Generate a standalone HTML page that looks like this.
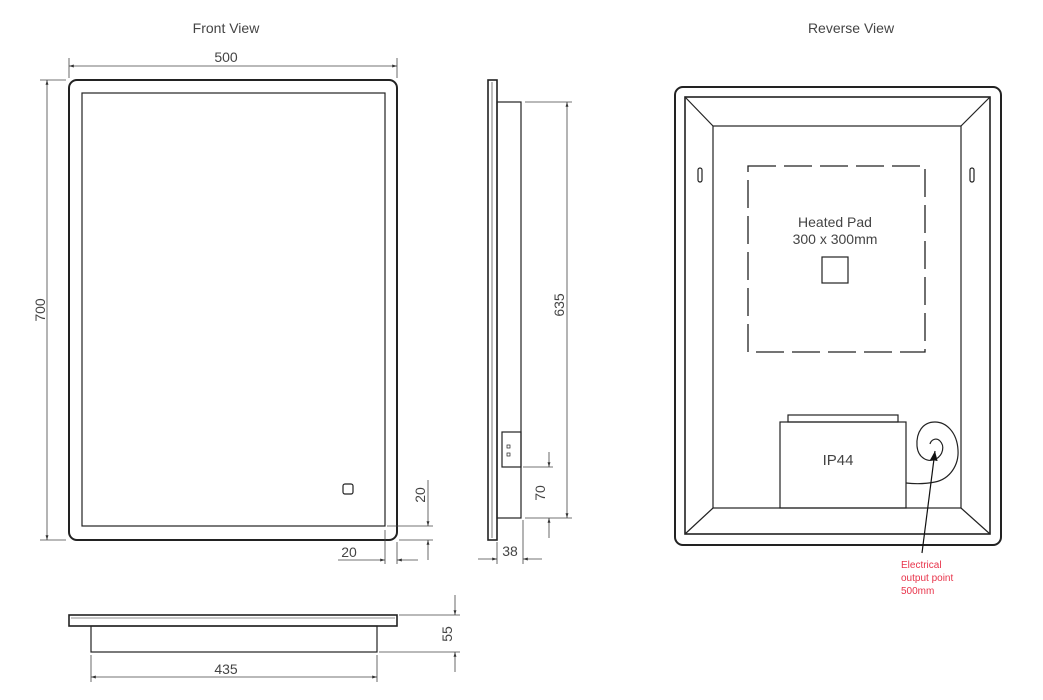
<!DOCTYPE html>
<html><head><style>
html,body{margin:0;padding:0;background:#fff;}
svg{display:block;}
text{font-family:"Liberation Sans",sans-serif;fill:#444;}
</style></head><body>
<svg width="1043" height="700" viewBox="0 0 1043 700" xmlns="http://www.w3.org/2000/svg">
<defs>
<marker id="a" viewBox="0 0 10 10" refX="10" refY="5" markerWidth="10" markerHeight="6" orient="auto-start-reverse"><path d="M0,2 L10,5 L0,8 z" fill="#333"/></marker>
<marker id="b" viewBox="0 0 10 10" refX="10" refY="5" markerWidth="8" markerHeight="8" orient="auto"><path d="M0,1 L10,5 L0,9 z" fill="#111"/></marker>
</defs>
<g stroke="#222" fill="none" stroke-width="1.2">
<!-- Front view -->
<rect x="69" y="80" width="328" height="460" rx="8" stroke-width="2"/>
<rect x="82" y="93" width="303" height="433"/>
<rect x="343" y="484" width="10" height="10" rx="2"/>
<g stroke-width="0.8" stroke="#444">
<line x1="69" y1="58" x2="69" y2="78"/><line x1="397" y1="58" x2="397" y2="78"/>
<line x1="69" y1="66" x2="397" y2="66" marker-start="url(#a)" marker-end="url(#a)"/>
<line x1="40" y1="80" x2="66" y2="80"/><line x1="40" y1="540" x2="66" y2="540"/>
<line x1="47" y1="80" x2="47" y2="540" marker-start="url(#a)" marker-end="url(#a)"/>
<line x1="387" y1="526" x2="433" y2="526"/><line x1="399" y1="540" x2="433" y2="540"/>
<line x1="428" y1="480" x2="428" y2="526" marker-end="url(#a)"/>
<line x1="428" y1="560" x2="428" y2="540" marker-end="url(#a)"/>
<line x1="385" y1="530" x2="385" y2="564"/><line x1="397" y1="542" x2="397" y2="564"/>
<line x1="338" y1="560" x2="385" y2="560" marker-end="url(#a)"/>
<line x1="418" y1="560" x2="397" y2="560" marker-end="url(#a)"/>
</g>
<!-- Side view -->
<rect x="488" y="80" width="9" height="460" stroke-width="1.6"/>
<line x1="492" y1="82" x2="492" y2="538" stroke-width="0.6"/>
<rect x="497" y="102" width="24" height="416"/>
<rect x="502" y="432" width="19" height="35"/>
<rect x="507" y="445" width="3" height="3" stroke-width="0.7"/><rect x="507" y="453" width="3" height="3" stroke-width="0.7"/>
<g stroke-width="0.8" stroke="#444">
<line x1="525" y1="102" x2="572" y2="102"/><line x1="525" y1="518" x2="572" y2="518"/>
<line x1="567" y1="102" x2="567" y2="518" marker-start="url(#a)" marker-end="url(#a)"/>
<line x1="523" y1="467" x2="553" y2="467"/>
<line x1="549" y1="452" x2="549" y2="467" marker-end="url(#a)"/>
<line x1="549" y1="538" x2="549" y2="518" marker-end="url(#a)"/>
<line x1="497" y1="542" x2="497" y2="564"/><line x1="523" y1="520" x2="523" y2="564"/>
<line x1="478" y1="559" x2="497" y2="559" marker-end="url(#a)"/>
<line x1="542" y1="559" x2="523" y2="559" marker-end="url(#a)"/>
</g>
<!-- Bottom view -->
<rect x="69" y="615" width="328" height="11" stroke-width="1.6"/>
<line x1="71" y1="618" x2="395" y2="618" stroke-width="0.6"/>
<rect x="91" y="626" width="286" height="26"/>
<g stroke-width="0.8" stroke="#444">
<line x1="399" y1="615" x2="460" y2="615"/><line x1="379" y1="652" x2="460" y2="652"/>
<line x1="455" y1="595" x2="455" y2="615" marker-end="url(#a)"/>
<line x1="455" y1="672" x2="455" y2="652" marker-end="url(#a)"/>
<line x1="91" y1="655" x2="91" y2="682"/><line x1="377" y1="655" x2="377" y2="682"/>
<line x1="91" y1="677" x2="377" y2="677" marker-start="url(#a)" marker-end="url(#a)"/>
</g>
<!-- Reverse view -->
<rect x="675" y="87" width="326" height="458" rx="8" stroke-width="2"/>
<rect x="685" y="97" width="305" height="437" stroke-width="1.6"/>
<rect x="713" y="126" width="248" height="382"/>
<line x1="685" y1="97" x2="713" y2="126"/><line x1="990" y1="97" x2="961" y2="126"/>
<line x1="685" y1="534" x2="713" y2="508"/><line x1="990" y1="534" x2="961" y2="508"/>
<rect x="698" y="168" width="4" height="14" rx="2"/><rect x="970" y="168" width="4" height="14" rx="2"/>
<rect x="748" y="166" width="177" height="186" stroke-dasharray="28,8" stroke-width="1.3"/>
<rect x="822" y="257" width="26" height="26"/>
<rect x="788" y="415" width="110" height="7"/>
<rect x="780" y="422" width="126" height="86"/>
<path d="M906,483 C915,484 925,484 935,482 C950,479 959,465 958,450 C957,432 946,422 935,422 C923,422 916,432 917,446 C918,458 928,463 936,459 C943,455 945,446 940,441 C936,437 931,440 930,444" />
<line x1="922" y1="553" x2="935" y2="451" marker-end="url(#b)" stroke="#111"/>
</g>
<text x="226" y="33" font-size="14" text-anchor="middle" fill="#555">Front View</text>
<text x="851" y="33" font-size="14" text-anchor="middle" fill="#555">Reverse View</text>
<text x="226" y="62" font-size="14" text-anchor="middle">500</text>
<text x="226" y="674" font-size="14" text-anchor="middle">435</text>
<text x="349" y="557" font-size="14" text-anchor="middle">20</text>
<text x="510" y="556" font-size="14" text-anchor="middle">38</text>
<text font-size="14" text-anchor="middle" transform="translate(45,310) rotate(-90)">700</text>
<text font-size="14" text-anchor="middle" transform="translate(425,495) rotate(-90)">20</text>
<text font-size="14" text-anchor="middle" transform="translate(564,305) rotate(-90)">635</text>
<text font-size="14" text-anchor="middle" transform="translate(545,493) rotate(-90)">70</text>
<text font-size="14" text-anchor="middle" transform="translate(452,634) rotate(-90)">55</text>
<text x="835" y="227" font-size="14" text-anchor="middle" fill="#222">Heated Pad</text>
<text x="835" y="244" font-size="14" text-anchor="middle" fill="#222">300 x 300mm</text>
<text x="838" y="465" font-size="15" text-anchor="middle" fill="#222">IP44</text>
<text x="901" y="568" font-size="10" style="fill:#e8334a">Electrical</text>
<text x="901" y="581" font-size="10" style="fill:#e8334a">output point</text>
<text x="901" y="594" font-size="10" style="fill:#e8334a">500mm</text>
</svg>
</body></html>
